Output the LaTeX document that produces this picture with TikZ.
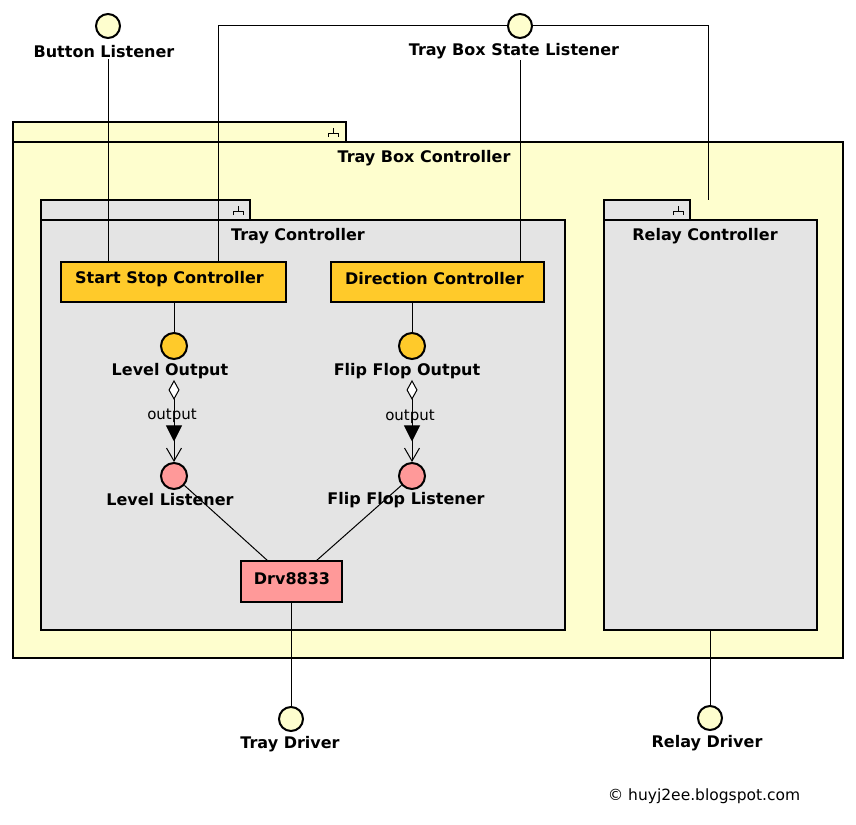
\documentclass[tikz,border=0pt]{standalone}
\usepackage{fontspec}
\setmainfont{DejaVu Sans}
\usetikzlibrary{arrows.meta,decorations.markings}
\definecolor{ifcfill}{HTML}{FEFECE}
\definecolor{pkggray}{HTML}{E4E4E4}
\definecolor{gold}{HTML}{FFCA2A}
\definecolor{pinkc}{HTML}{FF9999}
\tikzset{
  lbl/.style={inner sep=1pt, yshift=-1pt, font=\bfseries\fontsize{16pt}{19pt}\selectfont},
  small/.style={inner sep=1pt, font=\fontsize{15pt}{18pt}\selectfont},
  pkgtab/.style={draw, line width=2.8pt, rectangle, inner sep=0pt, outer sep=0pt, anchor=north west, minimum height=20pt},
  pkgbody/.style={draw, line width=2.8pt, rectangle, inner sep=0pt, outer sep=0pt, anchor=north west},
  compbox/.style={draw, line width=2.5pt, rectangle, inner sep=0pt, outer sep=0pt, anchor=north west},
  ifc/.style={draw, circle, line width=2pt, fill=ifcfill, minimum size=24pt, inner sep=0pt},
  port/.style={draw, circle, line width=2pt, minimum size=26pt, inner sep=0pt},
  conn/.style={draw, line width=1pt},
  assoc/.style={conn,
    {Diamond[fill=white,length=20pt,width=11pt,line width=1pt]}-{Straight Barb[length=13pt,width=15pt,line width=1pt]},
    postaction={decorate},
    decoration={markings, mark=at position 0.75 with {\arrow{Triangle[length=16pt,width=16pt]}}}},
  tabicon/.pic={\draw[line width=1pt] (0,-5) -- (0,0) (-5,4) -- (-5,0) -- (5,0) -- (5,4);}
}
\begin{document}
\begin{tikzpicture}[x=1pt,y=-1pt]
\useasboundingbox[fill=white] (0,0) rectangle (856,824);

% packages
\node[pkgtab, fill=ifcfill, minimum width=333pt] (TBCtab) at (13,122) {};
\node[pkgbody, fill=ifcfill, minimum width=830pt, minimum height=516pt] (TBC) at (13,142) {};
\pic at (333,133) {tabicon};
\node[lbl] (TBClab) at (424,157) {Tray Box Controller};

\node[pkgtab, fill=pkggray, minimum width=209pt] (TCtab) at (41,200) {};
\node[pkgbody, fill=pkggray, minimum width=524pt, minimum height=410pt] (TC) at (41,220) {};
\pic at (238,211) {tabicon};
\node[lbl] (TClab) at (298,235) {Tray Controller};

\node[pkgtab, fill=pkggray, minimum width=86pt] (RCtab) at (604,200) {};
\node[pkgbody, fill=pkggray, minimum width=213pt, minimum height=410pt] (RC) at (604,220) {};
\pic at (678,211) {tabicon};
\node[lbl] (RClab) at (705,235) {Relay Controller};

% components
\node[compbox, fill=gold, minimum width=225pt, minimum height=40pt] (SSC) at (61,262) {};
\node[lbl, anchor=west] (SSClab) at (74,278) {Start Stop Controller};
\node[compbox, fill=gold, minimum width=213pt, minimum height=40pt] (DC) at (331,262) {};
\node[lbl, anchor=west] (DClab) at (344,278) {Direction Controller};
\node[compbox, fill=pinkc, minimum width=101pt, minimum height=41pt] (Drv) at (241,561) {};
\node[lbl] (Drvlab) at (292,578) {Drv8833};

% interfaces
\node[ifc] (BL) at (108,26) {};
\node[lbl] (BLlab) at (104,51) {Button Listener};
\node[ifc] (TBSL) at (520,26) {};
\node[lbl] (TBSLlab) at (514,50) {Tray Box State Listener};
\node[ifc] (TD) at (291,719) {};
\node[lbl] (TDlab) at (290,743) {Tray Driver};
\node[ifc] (RD) at (710,718) {};
\node[lbl] (RDlab) at (707,742) {Relay Driver};

% ports
\node[port, fill=gold] (LO) at (174,346) {};
\node[lbl] (LOlab) at (170,370) {Level Output};
\node[port, fill=gold] (FFO) at (412,346) {};
\node[lbl] (FFOlab) at (407,370) {Flip Flop Output};
\node[port, fill=pinkc] (LL) at (174,476) {};
\node[lbl] (LLlab) at (170,499) {Level Listener};
\node[port, fill=pinkc] (FFL) at (412,476) {};
\node[lbl] (FFLlab) at (406,499) {Flip Flop Listener};

% connectors
\coordinate (RCtop) at (708,200);
\draw[conn] (BL |- BLlab.south) -- (BL |- SSC.north);
\draw[conn] (TBSL.west) -| ([xshift=44.5pt]SSC.north);
\draw[conn] (TBSL.east) -| (RCtop);
\draw[conn] (TBSL |- TBSLlab.south) -- (TBSL |- DC.north);
\draw[conn] (LO |- SSC.south) -- (LO.north);
\draw[conn] (FFO |- DC.south) -- (FFO.north);
\draw[assoc] (LO |- LOlab.south) -- (LL.north);
\draw[assoc] (FFO |- FFOlab.south) -- (FFL.north);
\node[small] (out1) at (172,416) {output};
\node[small] (out2) at (410,417) {output};
\draw[conn] (LL) -- ([xshift=-23.5pt]Drv.north);
\draw[conn] (FFL) -- ([xshift=24.5pt]Drv.north);
\draw[conn] (Drv.south -| TD) -- (TD.north);
\draw[conn] (RC.south -| RD) -- (RD.north);

\node[inner sep=1pt, font=\fontsize{15.5pt}{18pt}\selectfont] (copy) at (704,796) {© huyj2ee.blogspot.com};
\end{tikzpicture}
\end{document}
